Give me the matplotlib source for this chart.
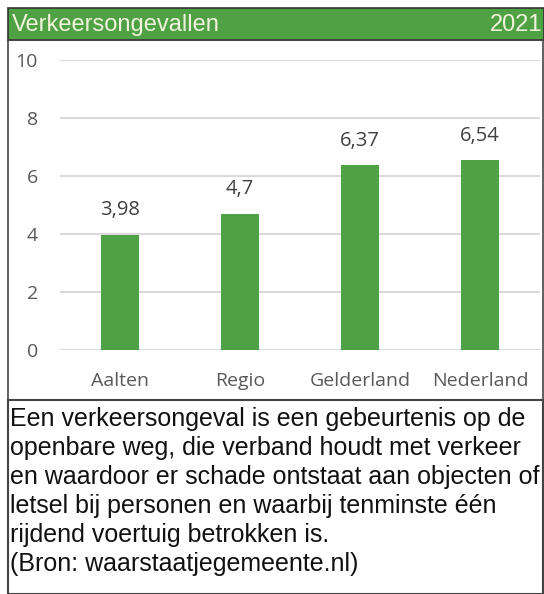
import matplotlib.pyplot as plt
from matplotlib.patches import Rectangle

W, H = 544, 594

title = "Verkeersongevallen"
year = "2021"
categories = ["Aalten", "Regio", "Gelderland", "Nederland"]
values = [3.98, 4.7, 6.37, 6.54]
value_labels = ["3,98", "4,7", "6,37", "6,54"]
yticks = [0, 2, 4, 6, 8, 10]
description = [
    "Een verkeersongeval is een gebeurtenis op de",
    "openbare weg, die verband houdt met verkeer",
    "en waardoor er schade ontstaat aan objecten of",
    "letsel bij personen en waarbij tenminste één",
    "rijdend voertuig betrokken is.",
    "(Bron: waarstaatjegemeente.nl)",
]

GREEN = "#4ea244"
GREY = "#595959"


def fx(px):
    return px / W


def fy(py):
    return 1 - py / H


fig = plt.figure(figsize=(W / 100, H / 100), dpi=100)

# header bar
fig.patches.append(Rectangle((fx(8), fy(40)), fx(536), 32 / H, transform=fig.transFigure,
                             facecolor=GREEN, edgecolor="#333333", linewidth=1.2))
fig.text(fx(12), fy(25), title, color="#f2f2dc", fontsize=17, family="Liberation Sans",
         va="center", ha="left")
fig.text(fx(542), fy(25), year, color="#f2f2dc", fontsize=17, family="Liberation Sans",
         va="center", ha="right")

# chart box and text box borders
fig.patches.append(Rectangle((fx(8), fy(400)), fx(535), 360 / H, transform=fig.transFigure,
                             facecolor="none", edgecolor="#444444", linewidth=1.2))
fig.patches.append(Rectangle((fx(8), fy(594)), fx(535), 194 / H, transform=fig.transFigure,
                             facecolor="none", edgecolor="#444444", linewidth=1.5))

# bar chart
ax = fig.add_axes([fx(60), fy(350), fx(480), 290 / H])
x = range(len(categories))
bars = ax.bar(x, values, width=0.31, color=GREEN, zorder=3)
for b, lab in zip(bars, value_labels):
    ax.text(b.get_x() + b.get_width() / 2, b.get_height() + 0.85, lab, ha="center",
            va="center", fontsize=14.5, color="#404040", family="Open Sans")
ax.set_xlim(-0.5, 3.5)
ax.set_ylim(0, 10)
ax.set_yticks(yticks)
ax.set_yticklabels([str(t) for t in yticks], fontsize=14, color=GREY, family="Open Sans")
ax.set_xticks(list(x))
ax.set_xticklabels(categories, fontsize=14, color=GREY, family="Open Sans")
ax.tick_params(length=0)
ax.tick_params(axis="y", pad=16)
ax.tick_params(axis="x", pad=16)
ax.grid(axis="y", color="#d9d9d9", linewidth=1.5, zorder=0)
for s in ax.spines.values():
    s.set_visible(False)

# description text
for i, line in enumerate(description):
    fig.text(fx(10), fy(419 + i * 29), line, fontsize=18, family="Liberation Sans",
             color="#111111", va="center", ha="left")

fig.savefig("out.png", dpi=100)
